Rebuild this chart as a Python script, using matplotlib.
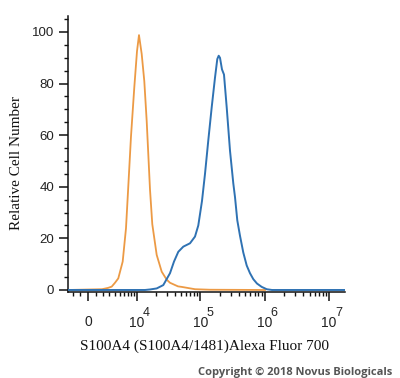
import numpy as np
import matplotlib
matplotlib.use("Agg")
import matplotlib.pyplot as plt
from matplotlib.ticker import FixedLocator, NullFormatter
from matplotlib.transforms import offset_copy

# ---- data ----
control_x = [-2780, 1867, 2783, 3409, 4018, 4682, 5672, 6506, 7055, 7947,
             9034, 10017, 10806, 11958, 13173, 14397, 16254, 17681, 20754,
             24882, 29801, 33568, 44757, 51110, 82370, 140950, 1011000]
control_y = [0, 0.3, 0.8, 1.3, 2.8, 4.5, 11, 23.9, 38, 59.5,
             78.5, 92.5, 98.8, 91.5, 81, 65.5, 39, 25.5, 13.6,
             7.1, 4.0, 2.8, 1.4, 1.2, 0.3, 0.1, 0]

s100a4_x = [-2780, 13521, 16254, 20754, 26362, 33568, 38763, 45240, 54150,
            68870, 82370, 92690, 105840, 117880, 132670, 149850, 168640,
            183070, 192530, 201710, 216610, 232720, 256470, 288620, 324870,
            345240, 374700, 412920, 464720, 524800, 590630, 664800, 758870,
            898100, 1074500, 1298400, 17730000]
s100a4_y = [0, 0, 0.2, 0.6, 1.9, 6.5, 11, 14.8, 16.8,
            18.1, 20.7, 25, 34.5, 45, 58, 70.8, 82.3,
            89.5, 90.8, 90, 85.5, 83.5, 70.8, 54, 41.3,
            36, 27, 21, 14.5, 9.5, 6.5, 4.2, 2.5,
            1.2, 0.3, 0, 0]

x_major = [0, 1e4, 1e5, 1e6, 1e7]
x_exponents = ['', '4', '5', '6', '7']
y_major = [0, 20, 40, 60, 80, 100]
y_major_labels = ['0', '20', '40', '60', '80', '100']
y_minor = [5, 10, 15, 25, 30, 35, 45, 50, 55, 65, 70, 75, 85, 90, 95, 105]

xlabel = 'S100A4 (S100A4/1481)Alexa Fluor 700'
ylabel = 'Relative Cell Number'
copyright_text = 'Copyright \u00a9 2018 Novus Biologicals'

# ---- biexponential-like axis ----
C = 1786.0
def fwd(x):
    return np.arcsinh(np.asarray(x, dtype=float) / (2 * C)) / np.log(10)
def inv(y):
    return 2 * C * np.sinh(np.asarray(y, dtype=float) * np.log(10))

fig = plt.figure(figsize=(4.0, 3.78), dpi=100)
ax = fig.add_axes([68 / 400, 1 - 292 / 378, (345 - 68) / 400, (292 - 16) / 378])

ax.set_xscale('function', functions=(fwd, inv))
ax.plot(control_x, control_y, color='#EC9A45', lw=1.3, zorder=3)
ax.plot(s100a4_x, s100a4_y, color='#2F72B3', lw=1.4, zorder=4)

ax.set_xlim(-2780, 1.773e7)
ax.set_ylim(-0.78, 106.2)

for sp in ['top', 'right']:
    ax.spines[sp].set_visible(False)
for sp in ['left', 'bottom']:
    ax.spines[sp].set_linewidth(1.1)
    ax.spines[sp].set_color('#111111')

ax.xaxis.set_major_locator(FixedLocator(x_major))
ax.xaxis.set_major_formatter(NullFormatter())
xminor = [-2000, -1000, 1000]
for d in [1e3, 1e4, 1e5, 1e6]:
    for k in range(2, 10):
        xminor.append(k * d)
ax.xaxis.set_minor_locator(FixedLocator(xminor))
ax.xaxis.set_minor_formatter(NullFormatter())

ax.yaxis.set_major_locator(FixedLocator(y_major))
ax.set_yticklabels(y_major_labels)
ax.yaxis.set_minor_locator(FixedLocator(y_minor))

ax.tick_params(axis='both', which='major', direction='out', length=6.5, width=1.1,
               color='#111111', labelsize=9.5, labelcolor='#222222')
ax.tick_params(axis='both', which='minor', direction='out', length=3.2, width=1.0,
               color='#111111')
ax.tick_params(axis='y', which='major', pad=3.5)
for lab in ax.get_yticklabels():
    lab.set_fontfamily('Liberation Sans')

# x tick labels: "10" with a large raised exponent
xt = ax.get_xaxis_transform()
for v, e in zip(x_major, x_exponents):
    if e == '':
        ax.text(v, 0, '0', transform=offset_copy(xt, fig, x=0, y=-30, units='dots'),
                ha='center', va='center', fontsize=10, fontfamily='Liberation Sans',
                color='#222222')
    else:
        ax.text(v, 0, '10', transform=offset_copy(xt, fig, x=0, y=-31, units='dots'),
                ha='center', va='center', fontsize=10, fontfamily='Liberation Sans',
                color='#222222')
        ax.text(v, 0, e, transform=offset_copy(xt, fig, x=6, y=-21, units='dots'),
                ha='left', va='center', fontsize=9, fontfamily='Liberation Sans',
                color='#222222')

fig.text(205 / 400, 1 - 346 / 378, xlabel, ha='center', va='center',
         fontfamily='Liberation Serif', fontsize=11, color='#111111')
fig.text(17 / 400, 1 - 163 / 378, ylabel, ha='center', va='center', rotation=90,
         fontfamily='Liberation Serif', fontsize=11, color='#111111')
fig.text(295 / 400, 1 - 372 / 378, copyright_text, ha='center', va='center',
         fontfamily='Open Sans', fontweight='bold', fontsize=8.0, color='#555555')

fig.savefig('out.png', dpi=100)
